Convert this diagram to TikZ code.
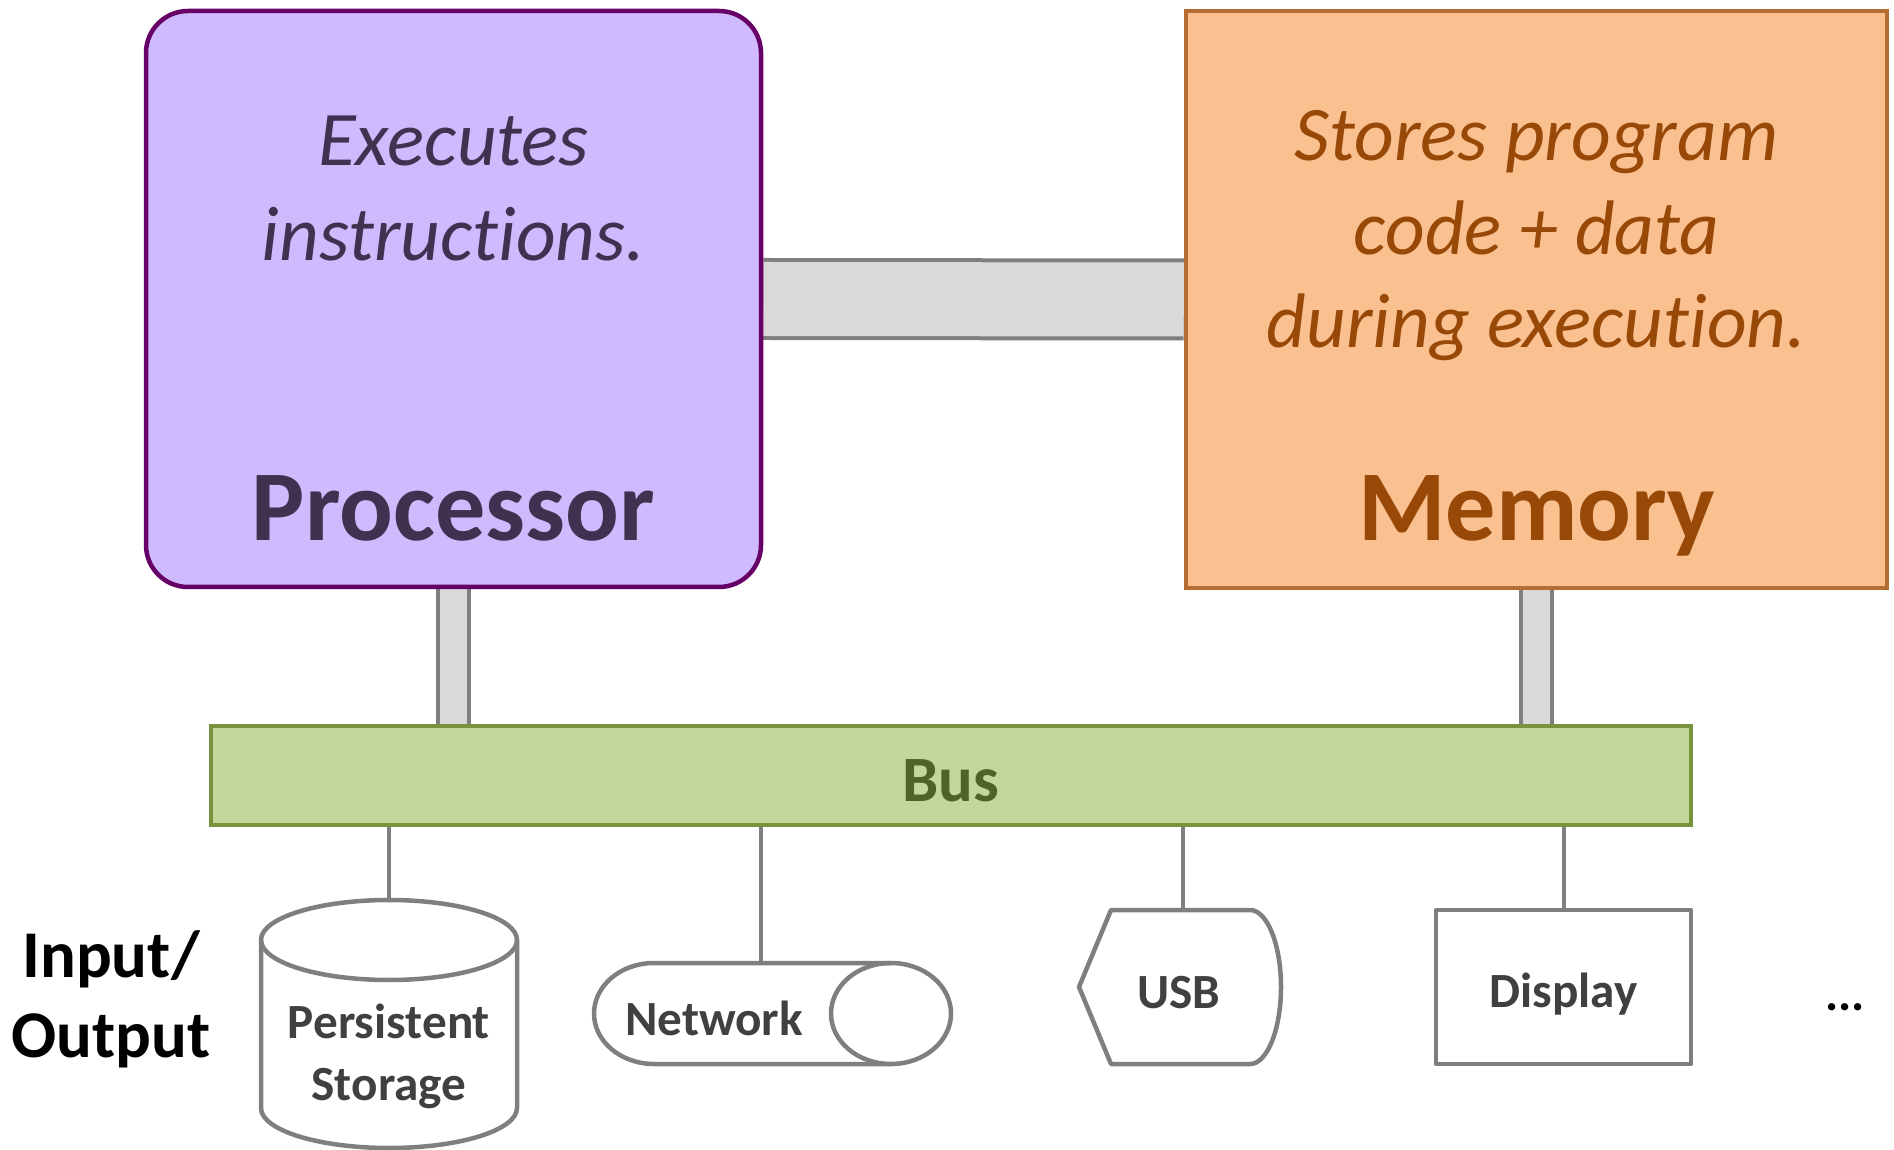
\documentclass[tikz,border=0pt]{standalone}
\usepackage{fontspec}
\setmainfont[Ligatures=NoCommon]{Carlito}
\usetikzlibrary{calc, backgrounds}
\definecolor{cpufill}{HTML}{D0BAFE}
\definecolor{cpuline}{HTML}{660066}
\definecolor{cputext}{HTML}{403151}
\definecolor{memfill}{HTML}{FAC090}
\definecolor{memline}{HTML}{B66D31}
\definecolor{memtext}{HTML}{984807}
\definecolor{busfill}{HTML}{C4D79B}
\definecolor{busline}{HTML}{77933C}
\definecolor{bustext}{HTML}{4F6228}
\definecolor{barfill}{HTML}{D9D9D9}
\definecolor{barline}{HTML}{7F7F7F}
\definecolor{iotext}{HTML}{404040}

\begin{document}
\begin{tikzpicture}[
    box/.style={draw, line width=0.045cm, inner sep=0pt},
    bar/.style={draw=barline, line width=0.04cm, double=barfill},
    wire/.style={draw=barline, line width=0.04cm},
    io/.style={draw=barline, line width=0.045cm, line join=round},
    iolabel/.style={text=iotext, font=\fontsize{14}{17.6}\selectfont\bfseries, align=center, inner sep=0pt}
]
			\useasboundingbox (0,0) rectangle (18.94,-11.5);

			% Draw processor and memory
			\node[box, draw=cpuline, fill=cpufill, rounded corners=0.42cm, minimum width=6.15cm, minimum height=5.76cm] (cpu) at (4.535,-2.99) {};
			\node[box, draw=memline, fill=memfill, minimum width=7.01cm, minimum height=5.77cm] (mem) at (15.365,-2.995) {};

			\node[anchor=north, align=center, text=cputext, font=\fontsize{22}{27}\selectfont\itshape] (cpudesc) at ($(cpu.north)+(0,-0.95)$) {Executes\\instructions.};
			\node[anchor=base, text=cputext, font=\fontsize{28.5}{34}\selectfont\bfseries] (cputitle) at ($(cpu.south)+(0,0.49)$) {Processor};
			\node[anchor=north, align=center, text=memtext, font=\fontsize{22}{26.7}\selectfont\itshape] (memdesc) at ($(mem.north)+(0,-0.89)$) {Stores program\\code + data\\during execution.};
			\node[anchor=base, text=memtext, font=\fontsize{28.5}{34}\selectfont\bfseries] (memtitle) at ($(mem.south)+(0,0.50)$) {Memory};

			% Draw bus
			\node[box, draw=busline, fill=busfill, minimum width=14.8cm, minimum height=0.99cm, text height=15pt, text=bustext, font=\fontsize{18.4}{22}\selectfont\bfseries] (bus) at (9.51,-7.755) {Bus};

			% Add bars behind the boxes
			\begin{scope}[on background layer]
				\draw[bar, double distance=0.74cm] (cpu.east) -- (mem.west);
				\draw[bar, double distance=0.27cm] (cpu.south) -- (cpu.south |- bus.north);
				\draw[bar, double distance=0.27cm] (mem.south) -- (mem.south |- bus.north);
			\end{scope}

			% Persistent storage (cylinder)
			\draw[io] (2.61,-9.40) -- (2.61,-11.08) arc[start angle=180, end angle=360, x radius=1.28, y radius=0.40] -- (5.17,-9.40);
			\draw[io] (3.89,-9.40) ellipse[x radius=1.28, y radius=0.40];
			\coordinate (disktop) at (3.89,-9.00);
			\node[iolabel, anchor=north] (disk) at (3.89,-10.03) {Persistent\\Storage};

			% Network (lying cylinder)
			\draw[io] (8.91,-9.63) -- (6.54,-9.63) arc[start angle=90, end angle=270, x radius=0.6, y radius=0.505] -- (8.91,-10.64);
			\draw[io] (8.91,-10.135) ellipse[x radius=0.6, y radius=0.505];
			\coordinate (nettop) at (7.61,-9.63);
			\node[iolabel] (net) at (7.14,-10.18) {Network};

			% USB
			\draw[io] (11.11,-9.10) -- (12.50,-9.10) arc[start angle=90, end angle=-90, x radius=0.31, y radius=0.77] -- (11.11,-10.64) -- (10.79,-9.87) -- cycle;
			\coordinate (usbtop) at (11.83,-9.10);
			\node[iolabel] (usb) at (11.79,-9.93) {USB};

			% Display
			\node[io, iolabel, minimum width=2.55cm, minimum height=1.54cm, text height=11.5pt, text depth=0pt] (disp) at (15.635,-9.87) {Display};

			% Wires from bus
			\foreach \dev in {disktop, nettop, usbtop, disp.north} {
					\draw[wire] (bus.south -| \dev) -- (\dev);
				}

			% Labels
			\node[align=center, font=\fontsize{19}{22.8}\selectfont\bfseries] (io) at (1.11,-9.99) {Input/\\Output};
			\node[anchor=base, font=\fontsize{14}{17}\selectfont\bfseries] (more) at (18.45,-10.10) {...};
		\end{tikzpicture}
\end{document}
